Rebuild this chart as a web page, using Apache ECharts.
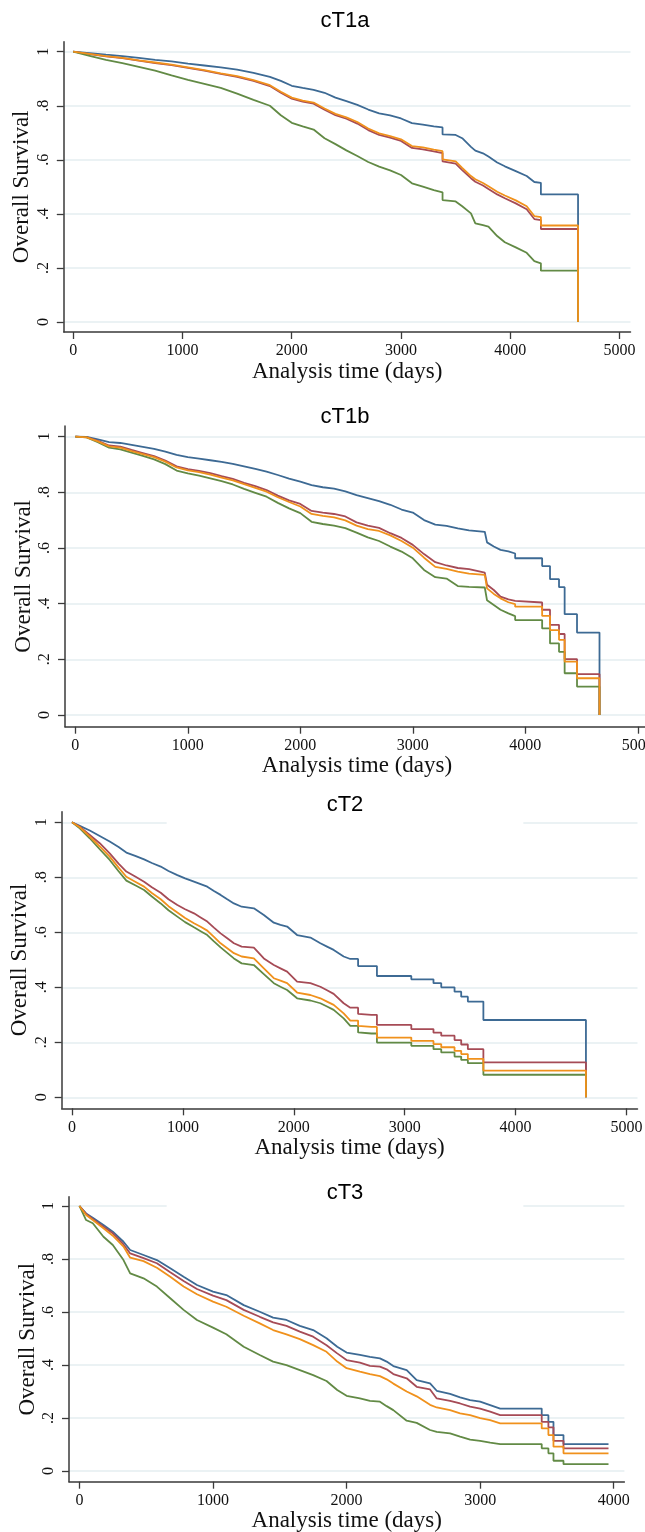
<!DOCTYPE html>
<html lang="en">
<head>
<meta charset="UTF-8">
<title>Overall survival by cT stage</title>
<script src="https://cdn.jsdelivr.net/npm/echarts@6/dist/echarts.min.js"></script>
<style>
    html, body { margin: 0; padding: 0; background: #fff; }
    #main { width: 645px; height: 1532px; }
</style>
</head>
<body>
<div id="main"></div>
<script>
// axis ticks and labels
var xTicks5000 = [0, 1000, 2000, 3000, 4000, 5000];
var xTicks4000 = [0, 1000, 2000, 3000, 4000];
var yTicks = [0, 0.2, 0.4, 0.6, 0.8, 1];
var yTickLabels = ['0', '.2', '.4', '.6', '.8', '1'];
var titles = ['cT1a', 'cT1b', 'cT2', 'cT3'];
var groupNames = ['Group 1', 'Group 2', 'Group 3', 'Group 4'];

// cT1a  (a repeated time = a vertical drop of the survival curve)
var t1aTime = [0, 150, 300, 450, 600, 750, 900, 1050, 1200, 1350, 1500, 1650, 1800, 1900, 2000, 2100, 2200, 2300, 2400, 2500,
    2600, 2700, 2800, 2900, 3000, 3100, 3200, 3300, 3380, 3380, 3500, 3560, 3640, 3680, 3750, 3800, 3880, 3950, 4050, 4150,
    4220, 4280, 4280, 4620, 4620];
var t1aBlue = [1, 0.995, 0.989, 0.984, 0.977, 0.970, 0.964, 0.956, 0.949, 0.942, 0.934, 0.922, 0.907, 0.892, 0.874, 0.866, 0.859, 0.848, 0.830, 0.817,
    0.803, 0.786, 0.772, 0.764, 0.753, 0.736, 0.730, 0.724, 0.720, 0.694, 0.692, 0.680, 0.648, 0.634, 0.624, 0.612, 0.590, 0.576, 0.558, 0.540,
    0.518, 0.515, 0.472, 0.472, 0];
var t1aRed = [1, 0.991, 0.983, 0.976, 0.967, 0.958, 0.950, 0.940, 0.930, 0.918, 0.907, 0.892, 0.873, 0.848, 0.826, 0.815, 0.808, 0.785, 0.765, 0.752,
    0.734, 0.710, 0.692, 0.682, 0.670, 0.644, 0.639, 0.631, 0.625, 0.594, 0.586, 0.562, 0.532, 0.519, 0.505, 0.492, 0.472, 0.458, 0.439, 0.417,
    0.381, 0.377, 0.344, 0.344, 0];
var t1aGreen = [1, 0.985, 0.970, 0.958, 0.944, 0.930, 0.912, 0.896, 0.881, 0.866, 0.845, 0.822, 0.800, 0.765, 0.737, 0.724, 0.712, 0.680, 0.658, 0.635,
    0.614, 0.592, 0.575, 0.561, 0.544, 0.513, 0.501, 0.488, 0.480, 0.451, 0.446, 0.428, 0.402, 0.365, 0.358, 0.353, 0.318, 0.295, 0.276, 0.256,
    0.225, 0.217, 0.190, 0.190, 0];
var t1aOrange = [1, 0.992, 0.984, 0.977, 0.968, 0.960, 0.952, 0.942, 0.932, 0.920, 0.910, 0.895, 0.876, 0.852, 0.830, 0.819, 0.812, 0.790, 0.770, 0.757,
    0.740, 0.716, 0.698, 0.688, 0.676, 0.651, 0.646, 0.638, 0.632, 0.602, 0.594, 0.570, 0.540, 0.528, 0.514, 0.502, 0.482, 0.468, 0.450, 0.428,
    0.392, 0.388, 0.357, 0.357, 0];

// cT1b
var t1bTime = [0, 100, 200, 300, 400, 500, 600, 700, 800, 900, 1000, 1100, 1200, 1300, 1400, 1500, 1600, 1700, 1800, 1900,
    2000, 2100, 2200, 2300, 2400, 2500, 2600, 2700, 2800, 2900, 3000, 3100, 3200, 3300, 3400, 3500, 3640, 3660, 3720, 3780,
    3850, 3910, 3910, 4150, 4150, 4220, 4220, 4300, 4300, 4350, 4350, 4460, 4460, 4660, 4660];
var t1bBlue = [1, 0.999, 0.99, 0.98, 0.977, 0.97, 0.963, 0.956, 0.946, 0.934, 0.926, 0.921, 0.915, 0.909, 0.902, 0.893, 0.884, 0.874, 0.862, 0.849,
    0.838, 0.826, 0.818, 0.813, 0.803, 0.790, 0.779, 0.768, 0.755, 0.738, 0.727, 0.700, 0.684, 0.679, 0.670, 0.663, 0.658, 0.620, 0.605, 0.593,
    0.588, 0.580, 0.563, 0.563, 0.535, 0.535, 0.488, 0.488, 0.459, 0.459, 0.362, 0.362, 0.296, 0.296, 0];
var t1bRed = [1, 0.998, 0.985, 0.968, 0.964, 0.952, 0.941, 0.930, 0.914, 0.893, 0.883, 0.877, 0.869, 0.858, 0.848, 0.834, 0.822, 0.808, 0.788, 0.771,
    0.758, 0.733, 0.727, 0.722, 0.713, 0.692, 0.680, 0.672, 0.653, 0.636, 0.611, 0.578, 0.549, 0.537, 0.528, 0.524, 0.511, 0.468, 0.449, 0.425,
    0.415, 0.410, 0.404, 0.404, 0.378, 0.378, 0.324, 0.324, 0.291, 0.291, 0.201, 0.201, 0.147, 0.147, 0];
var t1bGreen = [1, 0.997, 0.98, 0.96, 0.954, 0.942, 0.931, 0.918, 0.901, 0.878, 0.868, 0.860, 0.850, 0.840, 0.828, 0.812, 0.798, 0.784, 0.762, 0.742,
    0.725, 0.694, 0.686, 0.680, 0.671, 0.655, 0.638, 0.625, 0.605, 0.587, 0.563, 0.521, 0.495, 0.490, 0.463, 0.460, 0.458, 0.412, 0.395, 0.378,
    0.365, 0.355, 0.341, 0.341, 0.311, 0.311, 0.257, 0.257, 0.227, 0.227, 0.150, 0.150, 0.102, 0.102, 0];
var t1bOrange = [1, 0.997, 0.983, 0.965, 0.960, 0.948, 0.937, 0.926, 0.910, 0.889, 0.879, 0.872, 0.863, 0.853, 0.843, 0.829, 0.816, 0.802, 0.782, 0.765,
    0.749, 0.722, 0.715, 0.710, 0.699, 0.680, 0.668, 0.661, 0.645, 0.625, 0.601, 0.565, 0.532, 0.525, 0.515, 0.508, 0.503, 0.455, 0.435, 0.419,
    0.405, 0.398, 0.389, 0.389, 0.356, 0.356, 0.305, 0.305, 0.270, 0.270, 0.192, 0.192, 0.132, 0.132, 0];

// cT2
var t2Time = [0, 70, 160, 250, 340, 420, 490, 570, 650, 720, 800, 870, 950, 1020, 1100, 1160, 1220, 1280, 1340, 1400,
    1460, 1530, 1640, 1730, 1820, 1880, 1940, 2030, 2150, 2240, 2300, 2360, 2450, 2510, 2580, 2580, 2700, 2750, 2750, 3060,
    3060, 3260, 3260, 3330, 3330, 3450, 3450, 3510, 3510, 3570, 3570, 3710, 3710, 4635, 4635];
var t2Blue = [1, 0.987, 0.970, 0.950, 0.930, 0.910, 0.890, 0.878, 0.865, 0.852, 0.839, 0.823, 0.808, 0.796, 0.784, 0.775, 0.766, 0.750, 0.736, 0.720,
    0.705, 0.693, 0.687, 0.663, 0.635, 0.627, 0.621, 0.590, 0.581, 0.560, 0.548, 0.536, 0.512, 0.503, 0.503, 0.477, 0.477, 0.477, 0.441, 0.441,
    0.429, 0.429, 0.415, 0.415, 0.400, 0.400, 0.384, 0.384, 0.366, 0.366, 0.348, 0.348, 0.281, 0.281, 0];
var t2Red = [1, 0.984, 0.954, 0.924, 0.887, 0.850, 0.821, 0.803, 0.784, 0.764, 0.744, 0.720, 0.699, 0.684, 0.669, 0.654, 0.639, 0.617, 0.596, 0.578,
    0.560, 0.548, 0.544, 0.505, 0.481, 0.469, 0.457, 0.421, 0.415, 0.402, 0.389, 0.376, 0.342, 0.326, 0.326, 0.303, 0.300, 0.300, 0.263, 0.263,
    0.248, 0.248, 0.235, 0.235, 0.224, 0.224, 0.208, 0.208, 0.192, 0.192, 0.175, 0.175, 0.127, 0.127, 0];
var t2Green = [1, 0.978, 0.942, 0.902, 0.863, 0.822, 0.788, 0.771, 0.754, 0.730, 0.705, 0.680, 0.657, 0.637, 0.618, 0.604, 0.590, 0.567, 0.545, 0.525,
    0.505, 0.487, 0.481, 0.448, 0.415, 0.402, 0.390, 0.360, 0.352, 0.342, 0.330, 0.318, 0.287, 0.260, 0.260, 0.236, 0.232, 0.232, 0.199, 0.199,
    0.187, 0.187, 0.175, 0.175, 0.163, 0.163, 0.148, 0.148, 0.136, 0.136, 0.124, 0.124, 0.082, 0.082, 0];
var t2Orange = [1, 0.982, 0.948, 0.912, 0.875, 0.835, 0.802, 0.784, 0.766, 0.743, 0.720, 0.695, 0.672, 0.652, 0.633, 0.620, 0.606, 0.583, 0.560, 0.542,
    0.524, 0.512, 0.505, 0.469, 0.433, 0.424, 0.415, 0.381, 0.372, 0.360, 0.348, 0.336, 0.305, 0.279, 0.279, 0.260, 0.256, 0.256, 0.217, 0.217,
    0.205, 0.205, 0.193, 0.193, 0.182, 0.182, 0.169, 0.169, 0.157, 0.157, 0.140, 0.140, 0.097, 0.097, 0];

// cT3
var t3Time = [0, 50, 100, 180, 250, 330, 380, 480, 580, 680, 780, 880, 1000, 1100, 1230, 1350, 1450, 1550, 1650, 1750,
    1850, 1930, 2000, 2100, 2175, 2250, 2300, 2350, 2450, 2525, 2625, 2675, 2775, 2850, 2925, 3000, 3075, 3150, 3461, 3461,
    3511, 3511, 3549, 3549, 3624, 3624, 3961];
var t3Blue = [1, 0.972, 0.956, 0.928, 0.903, 0.865, 0.834, 0.815, 0.796, 0.765, 0.733, 0.702, 0.677, 0.664, 0.626, 0.601, 0.579, 0.570, 0.548, 0.532,
    0.501, 0.469, 0.447, 0.438, 0.431, 0.425, 0.413, 0.396, 0.381, 0.343, 0.331, 0.303, 0.291, 0.278, 0.268, 0.262, 0.249, 0.236, 0.236, 0.211,
    0.211, 0.186, 0.186, 0.136, 0.136, 0.102, 0.102];
var t3Red = [1, 0.970, 0.951, 0.922, 0.897, 0.855, 0.821, 0.803, 0.784, 0.750, 0.717, 0.687, 0.662, 0.645, 0.608, 0.582, 0.561, 0.548, 0.526, 0.507,
    0.475, 0.444, 0.419, 0.409, 0.397, 0.394, 0.384, 0.366, 0.350, 0.318, 0.308, 0.274, 0.265, 0.255, 0.243, 0.236, 0.224, 0.211, 0.211, 0.186,
    0.186, 0.165, 0.165, 0.114, 0.114, 0.086, 0.086];
var t3Green = [1, 0.947, 0.935, 0.884, 0.853, 0.796, 0.746, 0.727, 0.696, 0.652, 0.608, 0.570, 0.541, 0.516, 0.469, 0.438, 0.413, 0.400, 0.381, 0.362,
    0.340, 0.306, 0.284, 0.274, 0.265, 0.262, 0.245, 0.230, 0.190, 0.182, 0.155, 0.148, 0.142, 0.130, 0.119, 0.114, 0.107, 0.102, 0.102, 0.086,
    0.086, 0.067, 0.067, 0.039, 0.039, 0.026, 0.026];
var t3Orange = [1, 0.966, 0.947, 0.916, 0.888, 0.847, 0.805, 0.792, 0.767, 0.733, 0.696, 0.667, 0.639, 0.620, 0.586, 0.557, 0.532, 0.516, 0.498, 0.475,
    0.450, 0.413, 0.388, 0.375, 0.366, 0.358, 0.346, 0.330, 0.300, 0.282, 0.250, 0.240, 0.230, 0.218, 0.211, 0.200, 0.192, 0.180, 0.180, 0.161,
    0.161, 0.136, 0.136, 0.092, 0.092, 0.067, 0.067];

var panels = [
    {time: t1aTime, curves: [t1aBlue, t1aRed, t1aGreen, t1aOrange], xTicks: xTicks5000},
    {time: t1bTime, curves: [t1bBlue, t1bRed, t1bGreen, t1bOrange], xTicks: xTicks5000},
    {time: t2Time, curves: [t2Blue, t2Red, t2Green, t2Orange], xTicks: xTicks5000},
    {time: t3Time, curves: [t3Blue, t3Red, t3Green, t3Orange], xTicks: xTicks4000}
];

// pixel layout of each panel (plot box and axis ranges)
var layout = [
    {left: 63.8, top: 41.7, width: 566.7, height: 290.3, xMin: -86, xMax: 5100, yMin: -0.037, yMax: 1.037, titleTop: 4, box: false},
    {left: 65, top: 426, width: 584, height: 300.7, xMin: -92, xMax: 5100, yMin: -0.042, yMax: 1.038, titleTop: 399.5, box: false},
    {left: 61.7, top: 811.7, width: 575.8, height: 296.6, xMin: -93, xMax: 5100, yMin: -0.04, yMax: 1.0385, titleTop: 788, box: true},
    {left: 69, top: 1196.7, width: 555.4, height: 285, xMin: -78, xMax: 4080, yMin: -0.04, yMax: 1.035, titleTop: 1176, box: true}
];
var titleCenter = 345;

var colors = ['#3d6a94', '#a64b56', '#628a45', '#f0911c'];
var axisColor = '#3a3a3a';
var serif = '"Liberation Serif", "Times New Roman", serif';

function yLabel(v) {
    for (var i = 0; i < yTicks.length; i++) {
        if (Math.abs(yTicks[i] - v) < 1e-6) return yTickLabels[i];
    }
    return '';
}

var chart = echarts.init(document.getElementById('main'));
var option = {
    animation: false,
    backgroundColor: '#fff',
    title: [],
    grid: [],
    xAxis: [],
    yAxis: [],
    series: []
};

panels.forEach(function (p, i) {
    var L = layout[i];
    var pad = L.box ? [6, 160, 9, 160] : [6, 5, 6, 5];
    option.title.push({
        text: titles[i],
        left: titleCenter - pad[3],
        top: L.titleTop,
        textAlign: 'center',
        padding: pad,
        backgroundColor: L.box ? '#fff' : 'transparent',
        textStyle: {fontFamily: '"Liberation Sans", Arial, sans-serif', fontSize: 22, fontWeight: 'normal', color: '#000'}
    });
    option.grid.push({
        left: L.left, top: L.top, width: L.width, height: L.height,
        containLabel: false, outerBoundsMode: 'none'
    });
    option.xAxis.push({
        gridIndex: i,
        type: 'value',
        min: L.xMin,
        max: L.xMax,
        name: 'Analysis time (days)',
        nameLocation: 'middle',
        nameGap: 28,
        nameMoveOverlap: false,
        nameTextStyle: {fontFamily: serif, fontSize: 23, color: '#111'},
        axisLine: {show: true, onZero: false, lineStyle: {color: axisColor, width: 1.5}},
        axisTick: {show: true, length: 7, customValues: p.xTicks, lineStyle: {color: axisColor, width: 1.3}},
        axisLabel: {
            customValues: p.xTicks, margin: 11, fontFamily: serif, fontSize: 16, color: '#111',
            formatter: function (v) { return String(v); }
        },
        splitLine: {show: false}
    });
    option.yAxis.push({
        gridIndex: i,
        type: 'value',
        min: L.yMin,
        max: L.yMax,
        name: 'Overall Survival',
        nameLocation: 'middle',
        nameGap: 30,
        nameMoveOverlap: false,
        nameTextStyle: {fontFamily: serif, fontSize: 23, color: '#111'},
        axisLine: {show: true, onZero: false, lineStyle: {color: axisColor, width: 1.5}},
        axisTick: {show: true, length: 7, customValues: yTicks, lineStyle: {color: axisColor, width: 1.3}},
        axisLabel: {
            customValues: yTicks, rotate: 90, margin: 12, fontFamily: serif, fontSize: 16, color: '#111',
            formatter: yLabel
        },
        splitLine: {show: true, lineStyle: {color: '#e4eef1', width: 1.5}}
    });
    p.curves.forEach(function (vals, k) {
        option.series.push({
            name: groupNames[k],
            type: 'line',
            xAxisIndex: i,
            yAxisIndex: i,
            symbol: 'none',
            data: p.time.map(function (t, j) { return [t, vals[j]]; }),
            lineStyle: {color: colors[k], width: 1.8},
            itemStyle: {color: colors[k]},
            z: 2 + k
        });
    });
});

chart.setOption(option);
</script>
</body>
</html>
